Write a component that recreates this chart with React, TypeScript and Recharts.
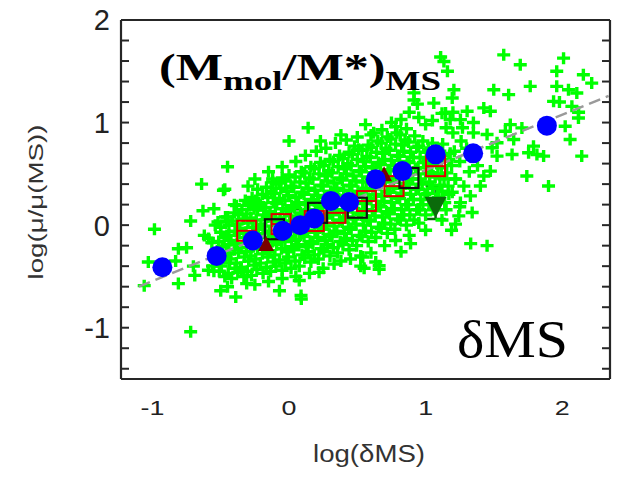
import React from "react";
import { ScatterChart, Scatter, XAxis, YAxis, ErrorBar } from "recharts";

const W = 623;
const H = 482;

const xDomain = [-1.23, 2.35];
const yDomain = [-1.5, 2];
const xMajor = [-1, 0, 1, 2];
const yMajor = [-1, 0, 1, 2];
const xMinor = [-1.2, -1, -0.8, -0.6, -0.4, -0.2, 0, 0.2, 0.4, 0.6, 0.8, 1, 1.2, 1.4, 1.6, 1.8, 2, 2.2];
const yMinor = [-1.4, -1.2, -1, -0.8, -0.6, -0.4, -0.2, 0, 0.2, 0.4, 0.6, 0.8, 1, 1.2, 1.4, 1.6, 1.8];

// dense part of the cloud (individual galaxies)
const cloudCore: [number, number][] = [
  [-0.55, -0.45], [-0.53, -0.3], [-0.565, -0.17], [-0.54, 0.0],
  [-0.47, -0.5], [-0.495, -0.4], [-0.46, -0.31], [-0.49, -0.21], [-0.475, -0.12], [-0.5, -0.02], [-0.465, 0.08],
  [-0.42, -0.52], [-0.395, -0.42], [-0.43, -0.33], [-0.4, -0.24], [-0.425, -0.15], [-0.39, -0.06], [-0.415, 0.04], [-0.4, 0.12],
  [-0.33, -0.5], [-0.355, -0.41], [-0.325, -0.31], [-0.35, -0.22], [-0.33, -0.12], [-0.36, -0.03], [-0.335, 0.06], [-0.345, 0.15], [-0.32, 0.24],
  [-0.275, -0.49], [-0.255, -0.39], [-0.28, -0.3], [-0.26, -0.21], [-0.285, -0.11], [-0.265, -0.02], [-0.28, 0.07], [-0.255, 0.16], [-0.27, 0.27],
  [-0.19, -0.47], [-0.21, -0.37], [-0.195, -0.28], [-0.215, -0.18], [-0.19, -0.08], [-0.205, 0.01], [-0.185, 0.1], [-0.21, 0.19], [-0.195, 0.3],
  [-0.135, -0.45], [-0.115, -0.36], [-0.14, -0.26], [-0.12, -0.16], [-0.145, -0.06], [-0.125, 0.04], [-0.14, 0.13], [-0.115, 0.22], [-0.13, 0.33], [-0.12, 0.42],
  [-0.05, -0.44], [-0.07, -0.34], [-0.055, -0.23], [-0.075, -0.13], [-0.05, -0.03], [-0.065, 0.07], [-0.045, 0.16], [-0.07, 0.26], [-0.06, 0.36], [-0.05, 0.46],
  [0.015, -0.42], [-0.005, -0.31], [0.02, -0.21], [0.0, -0.11], [0.025, -0.01], [0.005, 0.09], [0.02, 0.19], [-0.005, 0.29], [0.015, 0.38], [0.0, 0.49],
  [0.075, -0.4], [0.095, -0.29], [0.07, -0.19], [0.09, -0.08], [0.065, 0.02], [0.085, 0.12], [0.07, 0.22], [0.095, 0.32], [0.08, 0.42], [0.09, 0.52],
  [0.16, -0.36], [0.14, -0.26], [0.155, -0.16], [0.135, -0.05], [0.16, 0.05], [0.145, 0.15], [0.165, 0.25], [0.14, 0.36], [0.15, 0.46], [0.16, 0.57],
  [0.215, -0.33], [0.235, -0.23], [0.21, -0.12], [0.23, -0.02], [0.205, 0.09], [0.225, 0.19], [0.21, 0.29], [0.235, 0.39], [0.22, 0.5], [0.23, 0.61],
  [0.3, -0.3], [0.28, -0.19], [0.295, -0.09], [0.275, 0.02], [0.3, 0.12], [0.285, 0.22], [0.305, 0.33], [0.28, 0.43], [0.29, 0.53], [0.3, 0.64],
  [0.355, -0.27], [0.375, -0.16], [0.35, -0.06], [0.37, 0.05], [0.345, 0.15], [0.365, 0.26], [0.35, 0.36], [0.375, 0.46], [0.36, 0.57], [0.37, 0.68],
  [0.44, -0.24], [0.42, -0.13], [0.435, -0.02], [0.415, 0.08], [0.44, 0.19], [0.425, 0.29], [0.445, 0.39], [0.42, 0.5], [0.43, 0.6], [0.44, 0.71],
  [0.495, -0.2], [0.515, -0.1], [0.49, 0.01], [0.51, 0.12], [0.485, 0.22], [0.505, 0.33], [0.49, 0.43], [0.515, 0.53], [0.5, 0.64], [0.51, 0.74],
  [0.58, -0.16], [0.56, -0.06], [0.575, 0.05], [0.555, 0.15], [0.58, 0.26], [0.565, 0.36], [0.585, 0.47], [0.56, 0.57], [0.57, 0.67], [0.58, 0.78],
  [0.635, -0.12], [0.655, -0.02], [0.63, 0.09], [0.65, 0.19], [0.625, 0.3], [0.645, 0.4], [0.63, 0.5], [0.655, 0.61], [0.64, 0.71], [0.65, 0.82],
  [0.72, -0.08], [0.7, 0.02], [0.715, 0.13], [0.695, 0.23], [0.72, 0.33], [0.705, 0.44], [0.725, 0.54], [0.7, 0.64], [0.71, 0.75], [0.72, 0.86],
  [0.775, -0.04], [0.795, 0.06], [0.77, 0.16], [0.79, 0.27], [0.765, 0.37], [0.785, 0.47], [0.77, 0.58], [0.795, 0.68], [0.78, 0.79], [0.79, 0.9],
  [0.86, 0.0], [0.84, 0.1], [0.855, 0.2], [0.835, 0.31], [0.86, 0.41], [0.845, 0.51], [0.865, 0.62], [0.84, 0.72], [0.85, 0.83], [0.86, 0.94],
  [0.915, 0.05], [0.935, 0.15], [0.91, 0.25], [0.93, 0.35], [0.905, 0.45], [0.925, 0.55], [0.91, 0.66], [0.935, 0.76], [0.92, 0.87],
  [1.0, 0.1], [0.98, 0.2], [0.995, 0.3], [0.975, 0.4], [1.0, 0.5], [0.985, 0.61], [1.005, 0.71], [0.98, 0.82],
  [1.055, 0.15], [1.075, 0.26], [1.05, 0.36], [1.07, 0.47], [1.045, 0.58], [1.065, 0.69], [1.05, 0.8],
  [1.14, 0.22], [1.12, 0.33], [1.135, 0.45], [1.115, 0.56], [1.14, 0.68], [1.125, 0.79],
  [1.195, 0.32], [1.215, 0.45], [1.19, 0.58], [1.21, 0.72],
];

// second, staggered layer of the dense core
const cloudFill: [number, number][] = [
  [-0.51, -0.45], [-0.52, -0.35], [-0.505, -0.26], [-0.515, -0.16], [-0.5, -0.07], [-0.52, 0.03],
  [-0.445, -0.47], [-0.435, -0.37], [-0.45, -0.28], [-0.44, -0.19], [-0.455, -0.1], [-0.44, 0.0], [-0.45, 0.08],
  [-0.375, -0.46], [-0.385, -0.37], [-0.37, -0.27], [-0.38, -0.18], [-0.365, -0.08], [-0.38, 0.01], [-0.37, 0.1], [-0.385, 0.19],
  [-0.305, -0.45], [-0.295, -0.35], [-0.31, -0.26], [-0.3, -0.17], [-0.315, -0.07], [-0.3, 0.02], [-0.31, 0.11], [-0.295, 0.21],
  [-0.235, -0.43], [-0.245, -0.33], [-0.23, -0.23], [-0.24, -0.13], [-0.225, -0.04], [-0.24, 0.05], [-0.23, 0.15], [-0.245, 0.24],
  [-0.165, -0.41], [-0.155, -0.31], [-0.17, -0.21], [-0.16, -0.11], [-0.175, -0.01], [-0.16, 0.08], [-0.17, 0.17], [-0.155, 0.27], [-0.165, 0.37],
  [-0.095, -0.4], [-0.105, -0.29], [-0.09, -0.19], [-0.1, -0.09], [-0.085, 0.01], [-0.1, 0.11], [-0.09, 0.21], [-0.105, 0.31], [-0.095, 0.4],
  [-0.025, -0.37], [-0.015, -0.26], [-0.03, -0.16], [-0.02, -0.06], [-0.035, 0.04], [-0.02, 0.14], [-0.03, 0.24], [-0.015, 0.33], [-0.025, 0.43],
  [0.045, -0.35], [0.035, -0.24], [0.05, -0.14], [0.04, -0.04], [0.055, 0.07], [0.04, 0.17], [0.05, 0.27], [0.035, 0.37], [0.045, 0.47],
  [0.115, -0.32], [0.125, -0.21], [0.11, -0.11], [0.12, 0.0], [0.105, 0.1], [0.12, 0.2], [0.11, 0.3], [0.125, 0.41], [0.115, 0.51],
  [0.185, -0.29], [0.175, -0.18], [0.19, -0.07], [0.18, 0.03], [0.195, 0.14], [0.18, 0.24], [0.19, 0.34], [0.175, 0.45], [0.185, 0.55],
  [0.255, -0.26], [0.265, -0.15], [0.25, -0.04], [0.26, 0.07], [0.245, 0.17], [0.26, 0.27], [0.25, 0.38], [0.265, 0.48], [0.255, 0.58],
  [0.325, -0.22], [0.315, -0.11], [0.33, -0.01], [0.32, 0.1], [0.335, 0.2], [0.32, 0.31], [0.33, 0.41], [0.315, 0.51], [0.325, 0.62],
  [0.395, -0.19], [0.405, -0.08], [0.39, 0.03], [0.4, 0.13], [0.385, 0.24], [0.4, 0.34], [0.39, 0.44], [0.405, 0.55], [0.395, 0.65],
  [0.465, -0.15], [0.455, -0.04], [0.47, 0.06], [0.46, 0.17], [0.475, 0.27], [0.46, 0.38], [0.47, 0.48], [0.455, 0.58], [0.465, 0.69],
  [0.535, -0.11], [0.545, 0.0], [0.53, 0.1], [0.54, 0.21], [0.525, 0.31], [0.54, 0.42], [0.53, 0.52], [0.545, 0.62], [0.535, 0.73],
  [0.605, -0.07], [0.595, 0.04], [0.61, 0.14], [0.6, 0.25], [0.615, 0.35], [0.6, 0.45], [0.61, 0.56], [0.595, 0.66], [0.605, 0.76],
  [0.675, -0.03], [0.685, 0.08], [0.67, 0.18], [0.68, 0.28], [0.665, 0.39], [0.68, 0.49], [0.67, 0.59], [0.685, 0.7], [0.675, 0.8],
  [0.745, 0.01], [0.735, 0.11], [0.75, 0.22], [0.74, 0.32], [0.755, 0.42], [0.74, 0.53], [0.75, 0.63], [0.735, 0.73], [0.745, 0.84],
  [0.815, 0.05], [0.825, 0.15], [0.81, 0.26], [0.82, 0.36], [0.805, 0.46], [0.82, 0.57], [0.81, 0.67], [0.825, 0.78], [0.815, 0.88],
  [0.885, 0.1], [0.875, 0.2], [0.89, 0.3], [0.88, 0.4], [0.895, 0.5], [0.88, 0.61], [0.89, 0.71], [0.875, 0.81],
  [0.955, 0.15], [0.965, 0.25], [0.95, 0.35], [0.96, 0.45], [0.945, 0.56], [0.96, 0.66], [0.95, 0.77],
  [1.025, 0.2], [1.015, 0.31], [1.03, 0.42], [1.02, 0.52], [1.035, 0.63], [1.02, 0.74],
  [1.095, 0.27], [1.105, 0.39], [1.09, 0.5], [1.1, 0.62], [1.085, 0.73],
  [1.165, 0.38], [1.155, 0.51], [1.17, 0.64],
];

// sparser galaxies around the core
const cloudOuter: [number, number][] = [
  [-1.06, -0.59], [-0.985, -0.04], [-1.03, -0.36], [-0.81, -0.23], [-0.75, -0.22], [-0.83, -0.35], [-0.81, -0.57],
  [-0.69, -0.49], [-0.59, -0.44], [-0.5, -0.64], [-0.39, -0.7], [-0.72, -1.04], [-0.7, -0.4], [-0.56, -0.4],
  [-0.46, -0.27], [-0.35, -0.43], [-0.31, -0.57], [-0.07, -0.64], [0.09, -0.72], [0.075, -0.54], [0.22, -0.46],
  [0.38, -0.35], [0.54, -0.31], [0.55, -0.42], [0.635, -0.36], [0.66, -0.43], [0.525, -0.4], [0.66, -0.395],
  [0.82, -0.26], [0.89, -0.18], [0.088, -0.686], [0.525, -0.3], [1.33, -0.18], [1.45, -0.2],
  [-0.64, 0.4], [-0.48, 0.34], [-0.63, 0.14], [-0.55, 0.16], [-0.72, 0.04], [-0.45, 0.57], [-0.47, 0.35],
  [-0.4, 0.2], [-0.29, 0.19], [-0.46, 0.04], [-0.44, -0.1], [-0.62, -0.1], [-0.59, -0.13], [-0.12, 0.45],
  [-0.07, 0.41], [-0.23, 0.35], [-0.22, 0.22], [0.0, 0.82], [0.14, 0.95], [0.23, 0.82], [0.34, 0.8], [0.48, 0.77],
  [0.56, 0.98], [0.68, 0.93], [0.78, 0.96], [1.0, 0.98], [1.12, 1.09], [0.94, 1.18], [1.06, 1.19], [0.915, 1.29],
  [0.915, 1.22], [1.11, 1.64],
  [-0.3, 0.38], [-0.25, 0.45], [-0.15, 0.52], [-0.05, 0.57], [0.05, 0.62], [0.12, 0.68], [0.2, 0.72], [0.27, 0.75],
  [0.42, 0.83], [0.5, 0.86], [0.6, 0.88], [0.75, 1.0], [0.82, 1.03], [0.38, 0.88], [0.62, 0.9], [0.95, 1.05],
  [1.05, 1.02], [0.88, 1.1],
  [-0.45, -0.6], [-0.25, -0.58], [-0.15, -0.55], [-0.05, -0.52], [0.05, -0.5], [0.15, -0.47], [0.25, -0.42],
  [0.33, -0.38], [0.45, -0.33], [0.6, -0.27], [0.7, -0.2], [0.78, -0.15], [0.88, -0.1], [1.0, -0.05],
  [1.572, 1.66], [1.693, 1.563], [2.01, 1.628], [1.96, 1.5], [2.155, 1.466], [2.216, 1.385], [1.766, 1.353],
  [1.96, 1.353], [2.046, 1.32], [2.107, 1.288], [1.499, 1.32], [1.608, 1.272], [1.195, 1.24], [1.937, 1.207],
  [1.98, 1.2], [2.071, 1.158], [2.119, 1.045], [1.426, 1.143], [1.474, 1.11], [1.304, 1.11], [1.255, 1.029],
  [1.62, 0.98], [1.584, 0.916], [1.705, 0.948], [2.022, 0.964], [2.058, 0.835], [2.143, 0.673], [1.45, 0.883],
  [1.523, 0.803], [1.645, 0.835], [1.754, 0.706], [1.815, 0.689], [1.864, 0.673], [1.633, 0.689], [1.487, 0.755],
  [1.523, 0.673], [1.474, 0.527], [1.426, 0.479], [1.401, 0.382], [1.741, 0.479], [1.9, 0.382], [1.328, 0.285],
  [1.341, 0.123], [1.255, 0.22], [1.243, 0.09], [1.219, 0.01], [1.207, 1.32], [1.134, 1.595], [1.16, 1.5],
  [1.146, 1.094], [1.18, 1.03], [1.35, 0.9], [1.79, 0.77], [2.12, 1.1],
  [1.22, 0.45], [1.28, 0.38], [1.25, 0.18], [1.17, 0.3], [1.15, 0.15], [1.19, -0.05], [1.12, 0.05], [0.95, 0.02],
  [1.2, 0.9], [1.26, 0.82], [1.3, 0.75], [1.18, 0.7], [1.25, 0.62], [1.36, 0.68], [1.38, 0.58], [1.32, 0.52],
  [1.27, 0.95], [1.35, 1.0], [1.15, 0.95], [1.2, 1.1],
];

// binned means
const blueX = [-0.927, -0.53, -0.265, -0.046, 0.083, 0.185, 0.307, 0.44, 0.635, 0.83, 1.073, 1.348, 1.888];
const blueY = [-0.41, -0.3, -0.15, -0.055, 0.0, 0.065, 0.236, 0.226, 0.447, 0.527, 0.69, 0.7, 0.97];

const redSqX = [-0.31, -0.058, 0.185, 0.343, 0.567, 0.769, 1.073];
const redSqY = [-0.055, 0.01, 0.04, 0.12, 0.235, 0.38, 0.575];

const blackSqX = [-0.107, 0.209, 0.5, 0.878];
const blackSqY = [-0.04, 0.12, 0.17, 0.46];

const triX = [-0.168, 0.696];
const triY = [-0.185, 0.495];

const stackX = [1.073];
const stackY = [0.19];
const stackErr: [number, number][] = [[0.13, 0.19]];

const barOnlyX = [0.015];
const barOnlyY = [0.0];
const barOnlyErr: [number, number][] = [[0.15, 0.155]];

const fitX = [-1.1, 2.34];
const fitY = [-0.6, 1.26];

const toPts = (xs: number[], ys: number[]) => xs.map((x, i) => ({ x, y: ys[i] }));
const cloudData = [...cloudCore, ...cloudFill, ...cloudOuter].map(([x, y]) => ({ x, y }));
const blueData = toPts(blueX, blueY);
const redData = toPts(redSqX, redSqY);
const blackData = toPts(blackSqX, blackSqY);
const triData = toPts(triX, triY);
const fitData = toPts(fitX, fitY);
const stackData = stackX.map((x, i) => ({ x, y: stackY[i], err: stackErr[i] }));
const barOnlyData = barOnlyX.map((x, i) => ({ x, y: barOnlyY[i], err: barOnlyErr[i] }));

const FRAME = "#262626";
const SANS = "'Liberation Sans', Arial, sans-serif";
const SERIF = "'Liberation Serif', 'Times New Roman', serif";

const Plus = ({ cx, cy }: any) => (
  <path d={`M${cx - 6.5},${cy}h13M${cx},${cy - 6}v12`} stroke="#00ff00" strokeWidth={3.4} fill="none" />
);
const Dot = ({ cx, cy }: any) => <circle cx={cx} cy={cy} r={10} fill="#0000ff" />;
const RedBox = ({ cx, cy }: any) => (
  <g fill="none" stroke="#e00000" strokeWidth={2}>
    <rect x={cx - 9.5} y={cy - 10} width={19} height={20} />
    <line x1={cx - 9.5} x2={cx + 9.5} y1={cy} y2={cy} />
  </g>
);
const BlackBox = ({ cx, cy }: any) => (
  <rect x={cx - 9.5} y={cy - 10} width={19} height={20} fill="none" stroke="#111" strokeWidth={2.2} />
);
const Tri = ({ cx, cy }: any) => (
  <path d={`M${cx},${cy - 8}L${cx + 8},${cy + 7}L${cx - 8},${cy + 7}Z`} fill="#7a0000" />
);
const DownTri = ({ cx, cy }: any) => (
  <path d={`M${cx - 11},${cy - 9}L${cx + 11},${cy - 9}L${cx},${cy + 12}Z`} fill="#0b6b0b" />
);
const Nothing = () => <g />;

const XTick = ({ x, y, payload }: any) => (
  <text
    transform={`translate(${x},${y + 36}) scale(1.28,1)`}
    textAnchor="middle"
    fontFamily={SANS}
    fontSize={21}
    fill="#222"
  >
    {payload.value}
  </text>
);

const YTick = ({ x, y, payload }: any) => (
  <text x={x} y={y} dy="0.36em" textAnchor="end" fontFamily={SANS} fontSize={29} fill="#222">
    {payload.value}
  </text>
);

const tickLineStyle = { stroke: FRAME, strokeWidth: 2 };
const axisLineStyle = { stroke: FRAME, strokeWidth: 2.2 };

export default function App() {
  return (
    <div style={{ position: "fixed", left: 0, top: 0, width: W, height: H, background: "#fff" }}>
      <ScatterChart width={W} height={H} margin={{ top: 20, right: 13, bottom: 73, left: 61 }}>
        <XAxis
          xAxisId="x"
          type="number"
          dataKey="x"
          domain={xDomain}
          allowDataOverflow
          ticks={xMajor}
          interval={0}
          tickLine={false}
          tickSize={0}
          tickMargin={0}
          axisLine={axisLineStyle}
          tick={(p: any) => <XTick {...p} />}
          height={30}
        />
        <XAxis
          xAxisId="xb"
          type="number"
          domain={xDomain}
          allowDataOverflow
          ticks={xMinor}
          interval={0}
          mirror
          tick={Nothing}
          tickSize={8}
          axisLine={false}
          tickLine={tickLineStyle}
        />
        <XAxis
          xAxisId="xt"
          orientation="top"
          type="number"
          domain={xDomain}
          allowDataOverflow
          ticks={xMinor}
          interval={0}
          mirror
          tick={Nothing}
          tickSize={8}
          axisLine={axisLineStyle}
          tickLine={tickLineStyle}
        />
        <YAxis
          yAxisId="y"
          type="number"
          dataKey="y"
          domain={yDomain}
          allowDataOverflow
          ticks={yMajor}
          interval={0}
          tickLine={false}
          tickSize={0}
          tickMargin={11}
          axisLine={axisLineStyle}
          tick={(p: any) => <YTick {...p} />}
          width={60}
        />
        <YAxis
          yAxisId="yl"
          type="number"
          domain={yDomain}
          allowDataOverflow
          ticks={yMinor}
          interval={0}
          mirror
          tick={Nothing}
          tickSize={8}
          axisLine={false}
          tickLine={tickLineStyle}
        />
        <YAxis
          yAxisId="yr"
          orientation="right"
          type="number"
          domain={yDomain}
          allowDataOverflow
          ticks={yMinor}
          interval={0}
          mirror
          tick={Nothing}
          tickSize={8}
          axisLine={axisLineStyle}
          tickLine={tickLineStyle}
        />

        <Scatter xAxisId="x" yAxisId="y" data={cloudData} shape={Plus} isAnimationActive={false} />
        <Scatter
          xAxisId="x"
          yAxisId="y"
          data={fitData}
          shape={Nothing}
          line={{ stroke: "#9a9a9a", strokeWidth: 2.5, strokeDasharray: "12 6" }}
          isAnimationActive={false}
        />
        <Scatter xAxisId="x" yAxisId="y" data={barOnlyData} shape={Nothing} isAnimationActive={false}>
          <ErrorBar dataKey="err" direction="y" width={10} stroke="#0b6b0b" strokeWidth={2.5} isAnimationActive={false} />
        </Scatter>
        <Scatter xAxisId="x" yAxisId="y" data={redData} shape={RedBox} isAnimationActive={false} />
        <Scatter xAxisId="x" yAxisId="y" data={blackData} shape={BlackBox} isAnimationActive={false} />
        <Scatter xAxisId="x" yAxisId="y" data={triData} shape={Tri} isAnimationActive={false} />
        <Scatter xAxisId="x" yAxisId="y" data={stackData} shape={DownTri} isAnimationActive={false}>
          <ErrorBar dataKey="err" direction="y" width={10} stroke="#0b6b0b" strokeWidth={2.5} isAnimationActive={false} />
        </Scatter>
        <Scatter xAxisId="x" yAxisId="y" data={blueData} shape={Dot} isAnimationActive={false} />
      </ScatterChart>

      <svg width={W} height={H} style={{ position: "absolute", left: 0, top: 0, pointerEvents: "none" }}>
        <g transform="translate(159,80) scale(1.32,1)">
          <text x={0} y={0} fontFamily={SERIF} fontWeight="bold" fontSize={38} fill="#000">
            (M<tspan fontSize={28} dy={10}>mol</tspan>
            <tspan dy={-10}>/M*)</tspan>
            <tspan fontSize={28} dy={10}>MS</tspan>
          </text>
        </g>
        <text x={457} y={357} fontFamily={SERIF} fontSize={53} fill="#000" textLength={111} lengthAdjust="spacingAndGlyphs">
          δMS
        </text>
        <text
          x={369}
          y={462}
          textAnchor="middle"
          fontFamily={SANS}
          fontSize={23}
          fill="#333"
          textLength={112}
          lengthAdjust="spacingAndGlyphs"
        >
          log(δMS)
        </text>
        <text
          transform="translate(43,202) rotate(-90)"
          textAnchor="middle"
          fontFamily={SANS}
          fontSize={20}
          fill="#333"
          textLength={155}
          lengthAdjust="spacingAndGlyphs"
        >
          log(μ/μ(MS))
        </text>
      </svg>
    </div>
  );
}
